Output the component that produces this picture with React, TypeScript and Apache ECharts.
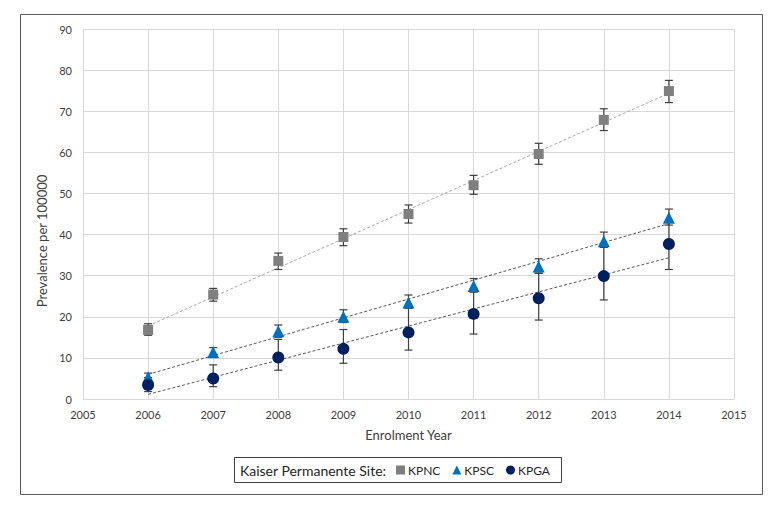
import React, { useEffect, useRef } from "react";
import * as echarts from "echarts";

const years = [2006, 2007, 2008, 2009, 2010, 2011, 2012, 2013, 2014];

const kpnc = [16.8, 25.4, 33.6, 39.4, 45.0, 52.0, 59.6, 67.9, 74.9];
const kpncLow = [15.5, 23.8, 31.5, 37.3, 42.8, 49.8, 57.1, 65.3, 72.1];
const kpncHigh = [18.3, 26.9, 35.5, 41.4, 47.2, 54.4, 62.2, 70.6, 77.5];

const kpsc = [5.3, 11.4, 16.5, 20.0, 23.5, 27.5, 32.2, 38.4, 44.1];
const kpscLow = [4.4, 10.4, 15.0, 18.6, 22.1, 26.0, 30.6, 36.9, 42.3];
const kpscHigh = [6.3, 12.5, 18.0, 21.7, 25.3, 29.3, 34.1, 40.6, 46.2];

const kpga = [3.4, 5.0, 10.1, 12.2, 16.2, 20.7, 24.5, 29.9, 37.7];
const kpgaLow = [1.8, 3.0, 7.0, 8.7, 11.9, 15.8, 19.2, 24.1, 31.5];
const kpgaHigh = [5.2, 8.3, 14.5, 16.9, 22.1, 26.1, 30.6, 36.9, 43.5];

const seriesNames = ["KPNC", "KPSC", "KPGA"];
const colors = ["#7f7f7f", "#0070c0", "#002060"];
const trendColors = ["#a6a6a6", "#595959", "#595959"];
const FONT = "Lato";

function fitLine(xs: number[], ys: number[]) {
  const n = xs.length;
  const mx = xs.reduce((a, b) => a + b, 0) / n;
  const my = ys.reduce((a, b) => a + b, 0) / n;
  let sxy = 0;
  let sxx = 0;
  for (let i = 0; i < n; i++) {
    sxy += (xs[i] - mx) * (ys[i] - my);
    sxx += (xs[i] - mx) * (xs[i] - mx);
  }
  const slope = sxy / sxx;
  const b = my - slope * mx;
  const x0 = xs[0];
  const x1 = xs[n - 1];
  return [
    [x0, b + slope * x0],
    [x1, b + slope * x1],
  ];
}

export default function App() {
  const ref = useRef<HTMLDivElement>(null);
  useEffect(() => {
    if (!ref.current) return;
    const chart = echarts.init(ref.current, null, { renderer: "svg" });

    const values = [kpnc, kpsc, kpga];
    const lows = [kpncLow, kpscLow, kpgaLow];
    const highs = [kpncHigh, kpscHigh, kpgaHigh];
    const symbols = ["rect", "triangle", "circle"];
    const symbolSizes = [10, 12, 12];

    const errSeries = values.map((_, s) => ({
      type: "custom",
      name: seriesNames[s] + " error",
      z: 2,
      silent: true,
      data: years.map((y, i) => [y, lows[s][i], highs[s][i]]),
      encode: { x: 0, y: [1, 2] },
      renderItem: (params: any, api: any) => {
        const x = api.value(0);
        const lo = api.coord([x, api.value(1)]);
        const hi = api.coord([x, api.value(2)]);
        const hw = 4;
        const st = { stroke: "#3f3f3f", lineWidth: 1.2 };
        return {
          type: "group",
          children: [
            { type: "line", shape: { x1: lo[0], y1: lo[1], x2: hi[0], y2: hi[1] }, style: st },
            { type: "line", shape: { x1: lo[0] - hw, y1: lo[1], x2: lo[0] + hw, y2: lo[1] }, style: st },
            { type: "line", shape: { x1: hi[0] - hw, y1: hi[1], x2: hi[0] + hw, y2: hi[1] }, style: st },
          ],
        };
      },
    }));

    const trendSeries = values.map((v, s) => ({
      type: "line",
      name: seriesNames[s] + " trend",
      z: 3,
      silent: true,
      symbol: "none",
      data: fitLine(years, v),
      lineStyle: { color: trendColors[s], width: 1, type: [3, 2] },
    }));

    const scatterSeries = values.map((v, s) => ({
      type: "scatter",
      name: seriesNames[s],
      z: 4,
      symbol: symbols[s],
      symbolSize: symbolSizes[s],
      itemStyle: { color: colors[s], opacity: 1 },
      data: years.map((y, i) => [y, v[i]]),
    }));

    chart.setOption({
      animation: false,
      textStyle: { fontFamily: FONT },
      grid: { left: 83, right: 50, top: 29, bottom: 121 },
      xAxis: {
        type: "value",
        min: 2005,
        max: 2015,
        interval: 1,
        name: "Enrolment Year",
        nameLocation: "middle",
        nameGap: 29,
        nameTextStyle: { fontFamily: FONT, fontSize: 13, color: "#404040" },
        axisLine: { show: true, lineStyle: { color: "#d9d9d9", width: 1 } },
        axisTick: { show: false },
        axisLabel: {
          fontFamily: FONT,
          fontSize: 11,
          color: "#404040",
          margin: 10,
          formatter: (v: number) => String(v),
        },
        splitLine: { show: true, lineStyle: { color: "#d9d9d9", width: 1 } },
      },
      yAxis: {
        type: "value",
        min: 0,
        max: 90,
        interval: 10,
        axisLine: { show: false },
        axisTick: { show: false },
        axisLabel: { fontFamily: FONT, fontSize: 11, color: "#404040", margin: 11 },
        splitLine: { show: true, lineStyle: { color: "#d9d9d9", width: 1 } },
      },
      legend: {
        data: [
          { name: "KPNC", icon: "rect" },
          { name: "KPSC", icon: "triangle" },
          { name: "KPGA", icon: "circle" },
        ],
        left: 396,
        top: 464,
        itemWidth: 9,
        itemHeight: 9,
        itemGap: 12,
        padding: 0,
        selectedMode: false,
        textStyle: { fontFamily: FONT, fontSize: 12, color: "#262626", padding: [0, 0, 0, -2] },
      },
      graphic: [
        {
          type: "rect",
          shape: { x: 20.5, y: 14.5, width: 742, height: 480 },
          style: { fill: "none", stroke: "#595959", lineWidth: 1 },
          silent: true,
          z: 0,
        },
        {
          type: "rect",
          shape: { x: 234.5, y: 457.5, width: 327, height: 25 },
          style: { fill: "#ffffff", stroke: "#404040", lineWidth: 1 },
          silent: true,
          z: 0,
        },
        {
          type: "text",
          x: 240,
          y: 470,
          style: {
            text: "Kaiser Permanente Site:",
            fontFamily: FONT,
            fontSize: 14,
            fill: "#262626",
            textAlign: "left",
            textVerticalAlign: "middle",
          },
          silent: true,
          z: 1,
        },
        {
          type: "text",
          x: 42,
          y: 241,
          rotation: Math.PI / 2,
          style: {
            text: "Prevalence per 100000",
            fontFamily: FONT,
            fontSize: 13,
            fill: "#404040",
            textAlign: "center",
            textVerticalAlign: "middle",
          },
          silent: true,
          z: 1,
        },
      ],
      series: [...errSeries, ...trendSeries, ...scatterSeries],
    });

    return () => chart.dispose();
  }, []);

  return (
    <div
      ref={ref}
      style={{ position: "fixed", left: 0, top: 0, width: 784, height: 520, background: "#ffffff" }}
    />
  );
}
